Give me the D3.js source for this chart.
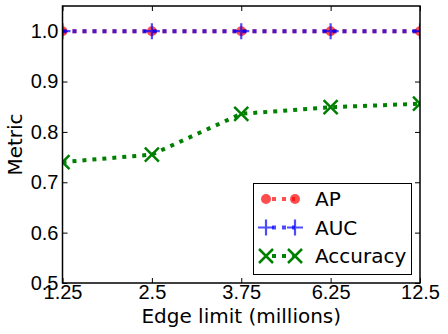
<!DOCTYPE html>
<html>
<head>
<meta charset="UTF-8">
<style>
  body { margin: 0; background: #fff; }
  svg { display: block; font-family: "DejaVu Sans", sans-serif; }
  .tick text { font-size: 20px; fill: #000; }
</style>
</head>
<body>
<script src="https://cdn.jsdelivr.net/npm/d3@7/dist/d3.min.js"></script>
<script>
const edgeLimits = ["1.25", "2.5", "3.75", "6.25", "12.5"];
const apValues = [1.0, 1.0, 1.0, 1.0, 1.0];
const aucValues = [1.0, 1.0, 1.0, 1.0, 1.0];
const accuracyValues = [0.740, 0.755, 0.836, 0.849, 0.856];
const yTicks = [0.5, 0.6, 0.7, 0.8, 0.9, 1.0];

const width = 448, height = 334;
const margin = {left: 62.5, right: 28, top: 6, bottom: 51};

const svg = d3.select("body").append("svg")
  .attr("width", width).attr("height", height);

const x = d3.scalePoint().domain(edgeLimits)
  .range([margin.left, width - margin.right]);
const y = d3.scaleLinear().domain([0.5, 1.05])
  .range([height - margin.bottom, margin.top]);

svg.append("clipPath").attr("id", "plotclip")
  .append("rect")
  .attr("x", margin.left).attr("y", margin.top)
  .attr("width", width - margin.left - margin.right)
  .attr("height", height - margin.top - margin.bottom);

// ticks point inward, on all four sides
const tickLen = 5;
svg.append("g").attr("transform", `translate(0,${height - margin.bottom})`)
  .call(d3.axisBottom(x).tickSizeInner(-tickLen).tickSizeOuter(0).tickPadding(2))
  .call(g => g.select(".domain").remove());
svg.append("g").attr("transform", `translate(0,${margin.top})`)
  .call(d3.axisTop(x).tickSizeInner(-tickLen).tickSizeOuter(0).tickFormat(""))
  .call(g => g.select(".domain").remove());
svg.append("g").attr("transform", `translate(${margin.left},0)`)
  .call(d3.axisLeft(y).tickValues(yTicks).tickFormat(d3.format(".1f"))
    .tickSizeInner(-tickLen).tickSizeOuter(0).tickPadding(4))
  .call(g => g.select(".domain").remove());
svg.append("g").attr("transform", `translate(${width - margin.right},0)`)
  .call(d3.axisRight(y).tickValues(yTicks).tickFormat("")
    .tickSizeInner(-tickLen).tickSizeOuter(0))
  .call(g => g.select(".domain").remove());

const series = [
  {name: "AP", values: apValues, color: "#ff0000", opacity: 0.7, marker: "circle"},
  {name: "AUC", values: aucValues, color: "#0000ff", opacity: 0.7, marker: "plus"},
  {name: "Accuracy", values: accuracyValues, color: "#008000", opacity: 1, marker: "x"}
];

function drawMarker(g, kind, cx, cy, color, opacity) {
  if (kind === "circle") {
    g.append("circle").attr("cx", cx).attr("cy", cy).attr("r", 5)
      .attr("fill", color).attr("fill-opacity", opacity).attr("stroke", "none");
  } else if (kind === "plus") {
    const s = 8;
    g.append("path").attr("d", `M${cx - s},${cy}H${cx + s}M${cx},${cy - s}V${cy + s}`)
      .attr("stroke", color).attr("stroke-opacity", opacity).attr("stroke-width", 2.2).attr("fill", "none");
  } else {
    const s = 7;
    g.append("path").attr("d", `M${cx - s},${cy - s}L${cx + s},${cy + s}M${cx - s},${cy + s}L${cx + s},${cy - s}`)
      .attr("stroke", color).attr("stroke-opacity", opacity).attr("stroke-width", 2.5).attr("fill", "none");
  }
}

const plot = svg.append("g").attr("clip-path", "url(#plotclip)");
const line = d3.line().x((d, i) => x(edgeLimits[i])).y(d => y(d));

series.forEach(s => {
  const g = plot.append("g");
  g.append("path").attr("d", line(s.values))
    .attr("fill", "none").attr("stroke", s.color).attr("stroke-opacity", s.opacity)
    .attr("stroke-width", 4).attr("stroke-dasharray", "4,6");
  s.values.forEach((v, i) => drawMarker(g, s.marker, x(edgeLimits[i]), y(v), s.color, s.opacity));
});

// frame
svg.append("rect")
  .attr("x", margin.left).attr("y", margin.top)
  .attr("width", width - margin.left - margin.right)
  .attr("height", height - margin.top - margin.bottom)
  .attr("fill", "none").attr("stroke", "#000").attr("stroke-width", 1.5);

// axis labels
svg.append("text").attr("x", (margin.left + width - margin.right) / 2).attr("y", 323)
  .attr("text-anchor", "middle").attr("font-size", 20).text("Edge limit (millions)");
svg.append("text")
  .attr("transform", `translate(22,${(margin.top + height - margin.bottom) / 2}) rotate(-90)`)
  .attr("text-anchor", "middle").attr("font-size", 20).text("Metric");

// legend
const legend = svg.append("g");
legend.append("rect").attr("x", 253.5).attr("y", 183.5).attr("width", 158).attr("height", 91)
  .attr("fill", "#fff").attr("stroke", "#000").attr("stroke-width", 1);
series.forEach((s, i) => {
  const ly = 199 + i * 28.5;
  const x0 = 266, x1 = 295;
  legend.append("path").attr("d", `M${x0},${ly}H${x1}`)
    .attr("stroke", s.color).attr("stroke-opacity", s.opacity)
    .attr("stroke-width", 4).attr("stroke-dasharray", "4,6").attr("stroke-dashoffset", -6);
  drawMarker(legend, s.marker, x0, ly, s.color, s.opacity);
  drawMarker(legend, s.marker, x1, ly, s.color, s.opacity);
  legend.append("text").attr("x", 315).attr("y", ly).attr("dy", "0.36em")
    .attr("font-size", 20).text(s.name);
});
</script>
</body>
</html>
